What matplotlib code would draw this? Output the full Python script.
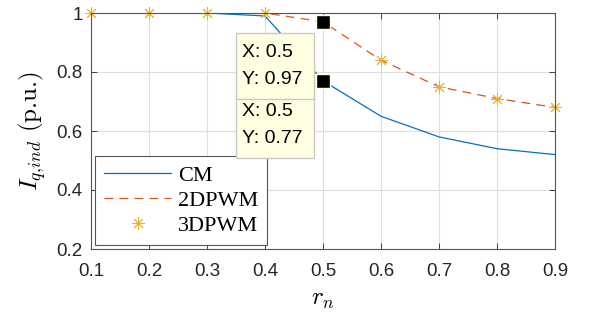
import numpy as np
import matplotlib
matplotlib.use("Agg")
import matplotlib.pyplot as plt
from matplotlib.patches import Rectangle
from matplotlib.transforms import IdentityTransform

# data
r_n = [0.1, 0.2, 0.3, 0.4, 0.5, 0.6, 0.7, 0.8, 0.9]
cm = [1.0, 1.0, 1.0, 0.99, 0.77, 0.65, 0.58, 0.54, 0.52]
dpwm2 = [1.0, 1.0, 1.0, 1.0, 0.97, 0.84, 0.75, 0.71, 0.68]
dpwm3 = [1.0, 1.0, 1.0, 1.0, 0.97, 0.84, 0.75, 0.71, 0.68]
xticks = [0.1, 0.2, 0.3, 0.4, 0.5, 0.6, 0.7, 0.8, 0.9]
yticks = [0.2, 0.4, 0.6, 0.8, 1.0]
ytick_labels = ["0.2", "0.4", "0.6", "0.8", "1"]
tips = [(0.5, 0.97), (0.5, 0.77)]

plt.rcParams['font.family'] = ['Liberation Sans', 'DejaVu Sans']
plt.rcParams['mathtext.fontset'] = 'cm'

fig = plt.figure(figsize=(5.96, 3.2), dpi=100)
ax = fig.add_axes([91/596, 1 - 249/320, 464/596, 236/320])

ax.plot(r_n, cm, color='#0072BD', lw=0.9, label='CM')
ax.plot(r_n, dpwm2, color='#D95319', lw=0.9, dashes=[7, 5], label='2DPWM')
ax.plot(r_n, dpwm3, ls='none', marker=(8, 2, 0), ms=9, mew=0.7,
        color='#EDB120', label='3DPWM', clip_on=False)

ax.set_xlim(0.1, 0.9)
ax.set_ylim(0.2, 1.0)
ax.set_xticks(xticks)
ax.set_xticklabels([f"{v:g}" for v in xticks])
ax.set_yticks(yticks)
ax.set_yticklabels(ytick_labels)
ax.tick_params(direction='in', length=4, width=0.6, colors='#262626',
               labelsize=13.5, top=True, right=True)
ax.tick_params(axis='x', pad=10)
ax.tick_params(axis='y', pad=6)
ax.grid(True, color='#dedede', lw=0.8)
ax.set_axisbelow(True)
for s in ax.spines.values():
    s.set_color('#555555')
    s.set_linewidth(0.8)

ax.set_xlabel(r"$r_n$", fontsize=18, labelpad=5)
ax.set_ylabel(r"$I_{q{,}ind}$ (p.u.)", fontsize=18, labelpad=6,
              fontfamily=['cmr10', 'DejaVu Serif'])

leg = ax.legend(loc='lower left', prop={'family': 'Liberation Serif', 'size': 16},
                fancybox=False, edgecolor='#555555', framealpha=1,
                handlelength=3.0, borderaxespad=0.2, labelspacing=0.2,
                borderpad=0.4, handletextpad=0.3)
leg.get_frame().set_linewidth(0.8)

# data tips: box drawn in pixels next to the data point, first tip on top
fig.canvas.draw()
for i, (x, y) in enumerate(tips):
    z = 10 - i
    px, py = ax.transData.transform((x, y))
    ax.plot([x], [y], marker='s', ms=10.5, color='black', mec='#FFFFE1',
            mew=1, zorder=z + 0.5)
    box = Rectangle((px - 87, py - 77), 78, 66, transform=IdentityTransform(),
                    fc='#FFFFE1', ec='#C8C8C8', lw=1, zorder=z, clip_on=False)
    ax.add_artist(box)
    ax.text(px - 81, py - 31, f"X: {x:g}", transform=IdentityTransform(),
            ha='left', va='center', fontsize=14, zorder=z + 0.1)
    ax.text(px - 81, py - 58, f"Y: {y:g}", transform=IdentityTransform(),
            ha='left', va='center', fontsize=14, zorder=z + 0.1)

fig.savefig("out.png", dpi=100)
